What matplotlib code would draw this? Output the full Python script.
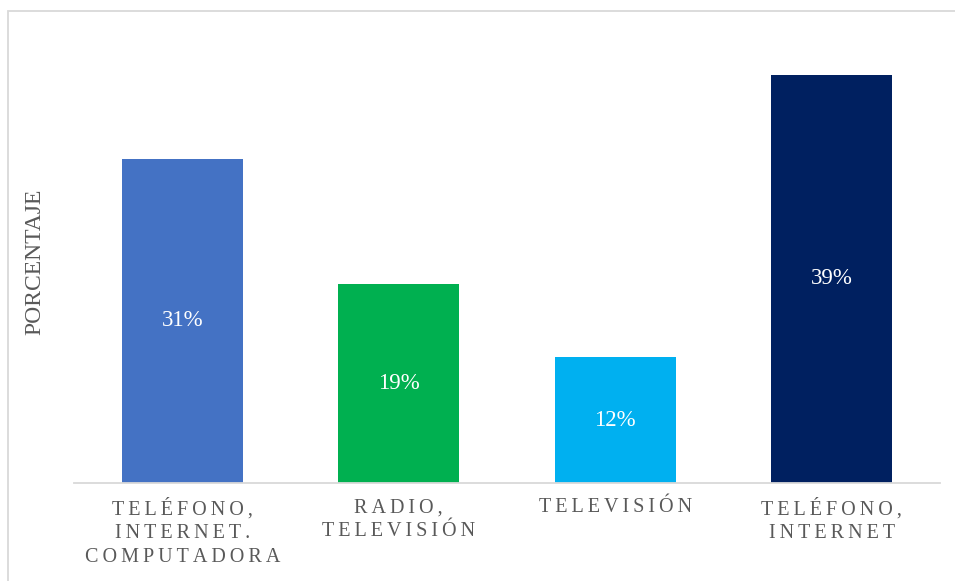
import matplotlib
matplotlib.use("Agg")
import matplotlib.pyplot as plt
from matplotlib.patches import Rectangle

# Data
categories = ["TELÉFONO,\nINTERNET.\nCOMPUTADORA", "RADIO,\nTELEVISIÓN", "TELEVISIÓN", "TELÉFONO,\nINTERNET"]
values = [31, 19, 12, 39]
labels = ["31%", "19%", "12%", "39%"]
colors = ["#4472C4", "#00B050", "#00B0F0", "#002060"]
y_title = "PORCENTAJE"

W, H, DPI = 955, 581, 100
TEXT_GRAY = "#595959"
LINE_GRAY = "#D9D9D9"
SERIF = ["Liberation Serif", "DejaVu Serif"]


def spaced(text):
    # widen letter spacing with thin spaces, line by line
    return "\n".join("\u2009".join(line) for line in text.split("\n"))


fig = plt.figure(figsize=(W / DPI, H / DPI), dpi=DPI)

# chart-area frame
fig.patches.append(Rectangle((8 / W, -0.05), 1.1, 1 - 11 / H + 0.05,
                             transform=fig.transFigure, fill=False,
                             edgecolor=LINE_GRAY, linewidth=1.3))

left, right, bottom, top = 74, 940, 483, 12
ax = fig.add_axes([left / W, 1 - bottom / H, (right - left) / W, (bottom - top) / H])

x = list(range(len(categories)))
bars = ax.bar(x, values, width=0.56, color=colors)
ax.set_xlim(-0.5, len(categories) - 0.5)
ax.set_ylim(0, 45)

for b, lab in zip(bars, labels):
    ax.text(b.get_x() + b.get_width() / 2, b.get_height() / 2, lab,
            ha="center", va="center", color="white", fontsize=16.5, family=SERIF)

for s in ["top", "right", "left"]:
    ax.spines[s].set_visible(False)
ax.spines["bottom"].set_color(LINE_GRAY)
ax.spines["bottom"].set_linewidth(1.3)
ax.set_yticks([])
ax.set_xticks(x)
ax.set_xticklabels([spaced(c) for c in categories], family=SERIF, fontsize=14.5,
                   color=TEXT_GRAY, linespacing=1.32, va="top")
ax.tick_params(axis="x", length=0, pad=11)

fig.text(35 / W, 1 - 262 / H, y_title, rotation=90, ha="center", va="center",
         fontsize=17, color=TEXT_GRAY, family=SERIF)

fig.savefig("out.png", dpi=DPI)
